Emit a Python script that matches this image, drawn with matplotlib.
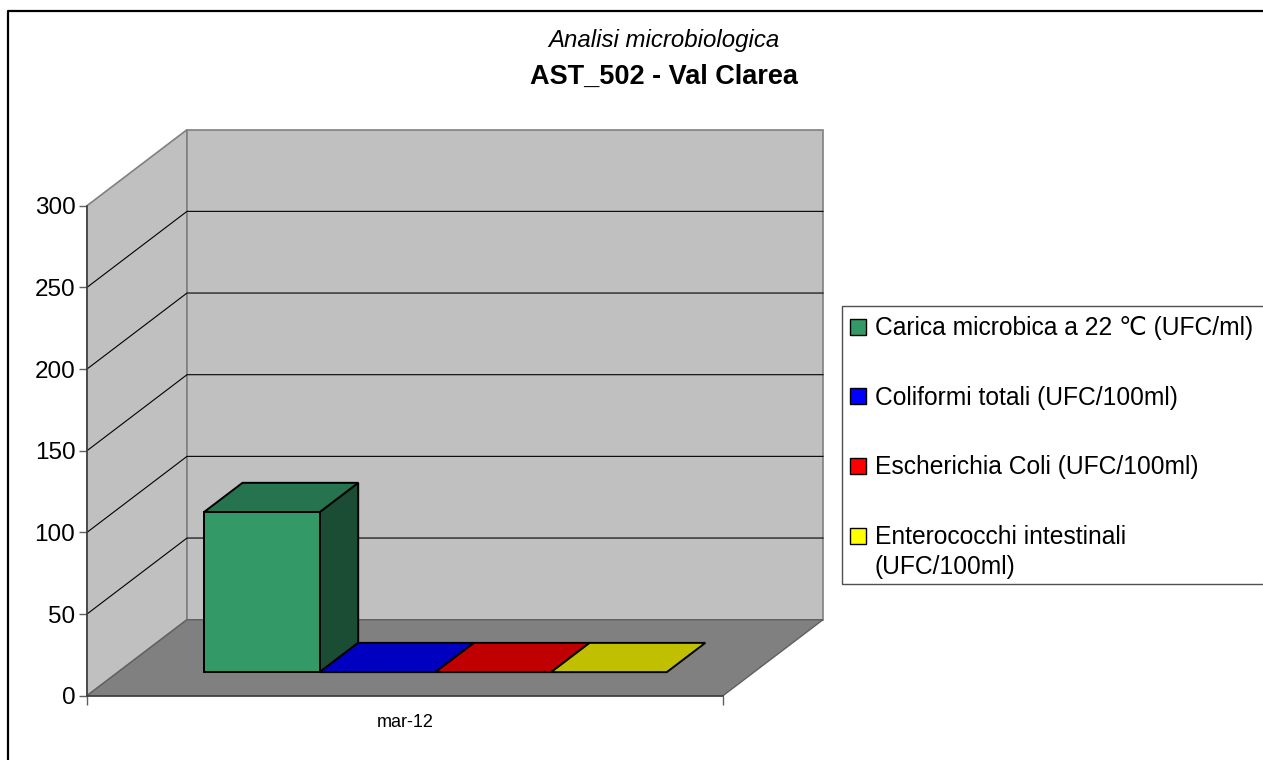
import matplotlib
matplotlib.use("Agg")
import matplotlib.pyplot as plt
from matplotlib.patches import Polygon, Patch, Rectangle
from matplotlib.lines import Line2D

plt.rcParams['font.family'] = ['Liberation Sans', 'DejaVu Sans']

W, H = 1263, 760

categories = ["mar-12"]
series_names = ["Carica microbica a 22 ℃ (UFC/ml)",
                "Coliformi totali (UFC/100ml)",
                "Escherichia Coli (UFC/100ml)",
                "Enterococchi intestinali\n(UFC/100ml)"]
series_values = [98, 0, 0, 0]
y_ticks = [0, 50, 100, 150, 200, 250, 300]

front_colors = ["#339966", "#0000C0", "#C00000", "#C0C000"]
top_colors = ["#267350", "#0000C0", "#C00000", "#C0C000"]
side_color = "#1A4D33"
legend_colors = ["#339966", "#0000FF", "#FF0000", "#FFFF00"]

# fake 3d: depth vector of the whole box, in data units
DX = 100 / 636
DY = 76 * 300 / 490
BAR_X0 = 86 / 636
BAR_W = 115.7 / 636
BAR_D0 = 0.31
BAR_D1 = 0.695


def proj(x, v, d):
    return (x + d * DX, v + d * DY)


def face(ax, pts, color, edge, lw=1.0, z=3):
    p = Polygon(pts, closed=True, facecolor=color, edgecolor=edge, linewidth=lw,
                joinstyle="miter", clip_on=False, zorder=z)
    ax.add_patch(p)


fig = plt.figure(figsize=(W / 100, H / 100), dpi=100)
ax = fig.add_axes([87 / W, (H - 695.7) / H, 636 / W, 490 / H])
ax.set_xlim(0, 1)
ax.set_ylim(0, 300)
ax.patch.set_visible(False)

# walls and floor
wall = "#C0C0C0"
wall_edge = "#808080"
face(ax, [proj(0, 0, 0), proj(0, 300, 0), proj(0, 300, 1), proj(0, 0, 1)], wall, wall_edge, 1.2, 1)
face(ax, [proj(0, 0, 1), proj(0, 300, 1), proj(1, 300, 1), proj(1, 0, 1)], wall, wall_edge, 1.2, 1)
face(ax, [proj(0, 0, 0), proj(0, 0, 1), proj(1, 0, 1), proj(1, 0, 0)], "#808080", "#606060", 1.0, 1.5)

for t in y_ticks[1:-1]:
    a = proj(0, t, 0)
    b = proj(0, t, 1)
    c = proj(1, t, 1)
    ax.plot([a[0], b[0], c[0]], [a[1], b[1], c[1]], color="black", lw=0.8, clip_on=False, zorder=2)

# bars
for i, v in enumerate(series_values):
    x0 = BAR_X0 + i * BAR_W
    x1 = x0 + BAR_W
    if v > 0:
        face(ax, [proj(x1, 0, BAR_D0), proj(x1, v, BAR_D0), proj(x1, v, BAR_D1), proj(x1, 0, BAR_D1)],
             side_color, "black", 1.4)
    face(ax, [proj(x0, v, BAR_D0), proj(x1, v, BAR_D0), proj(x1, v, BAR_D1), proj(x0, v, BAR_D1)],
         top_colors[i], "black", 1.4, 3 + i * 0.1)
    if v > 0:
        face(ax, [proj(x0, 0, BAR_D0), proj(x1, 0, BAR_D0), proj(x1, v, BAR_D0), proj(x0, v, BAR_D0)],
             front_colors[i], "black", 1.4, 3.5)

# axes
for s in ["top", "right"]:
    ax.spines[s].set_visible(False)
for s in ["left", "bottom"]:
    ax.spines[s].set_color("#404040")
    ax.spines[s].set_linewidth(1.2)
    ax.spines[s].set_zorder(4)
ax.set_yticks(y_ticks)
ax.tick_params(axis="y", labelsize=17.5, length=6, width=1.0, color="#606060", pad=2.4)
ax.set_xticks([0, 1])
ax.set_xticklabels(["", ""])
ax.set_xticks([0.5], categories, minor=True)
ax.tick_params(axis="x", which="major", length=6.5, width=1.0, color="#606060")
ax.tick_params(axis="x", which="minor", length=0, labelsize=13, pad=13)

# titles
fig.text(663.5 / W, 1 - 40 / H, "Analisi microbiologica", ha="center", va="center",
         fontsize=17.3, style="italic")
fig.text(663.5 / W, 1 - 77 / H, "AST_502 - Val Clarea", ha="center", va="center",
         fontsize=19.5, weight="bold")

# legend
fig.add_artist(Rectangle((842 / W, 1 - 584 / H), 500 / W, 278 / H, facecolor="white",
                         edgecolor="#505050", linewidth=1.0, transform=fig.transFigure, zorder=5))
handles = [Patch(facecolor=c, edgecolor="black", linewidth=1.0) for c in legend_colors]
leg = fig.legend(handles, series_names, loc="upper left", bbox_to_anchor=(843 / W, 1 - 309.5 / H),
                 frameon=False, fontsize=17.7, labelspacing=1.85, handlelength=0.65, handleheight=0.65,
                 handletextpad=0.37, borderpad=0.28, borderaxespad=0)
leg.set_zorder(6)
for t in leg.get_texts():
    t.set_linespacing(1.32)
# swatch of the two line entry sits on its first line
p = leg.get_patches()[3]
p.set_y(p.get_y() + 12)

# outer frame of the chart area
fig.add_artist(Line2D([7.5 / W, 7.5 / W, 1], [0, 1 - 11 / H, 1 - 11 / H], color="black", lw=1.6,
                      transform=fig.transFigure))

fig.savefig("out.png", dpi=100, facecolor="white")
